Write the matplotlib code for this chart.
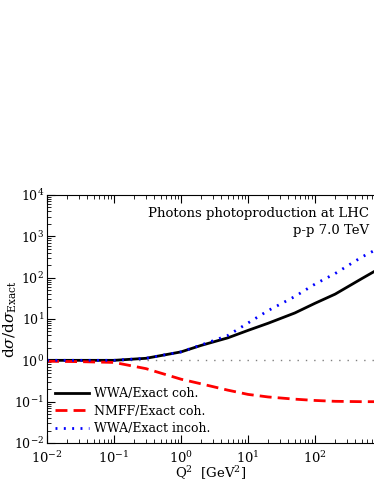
import numpy as np
import matplotlib
matplotlib.use("Agg")
import matplotlib.pyplot as plt

plt.rcParams['font.family'] = ['DejaVu Serif']
plt.rcParams['mathtext.fontset'] = 'dejavuserif'

# Q^2 grid [GeV^2]
q2 = [0.01, 0.03, 0.1, 0.3, 1, 2, 5, 10, 20, 50, 100, 200, 500, 760]

# ratios
wwa_coh = [1.0, 1.0, 1.0, 1.12, 1.6, 2.3, 3.5, 5.3, 7.9, 14, 24, 40, 95, 140]
nmff_coh = [0.95, 0.93, 0.89, 0.63, 0.35, 0.27, 0.19, 0.15, 0.13, 0.115, 0.107, 0.102, 0.1, 0.1]
wwa_incoh = [1.0, 1.0, 1.0, 1.12, 1.6, 2.35, 4.0, 8.0, 16, 35, 70, 126, 316, 450]

fig = plt.figure(figsize=(3.74, 4.84), dpi=100)
ax = fig.add_axes([0.1257, 0.0847, 0.8743, 0.5124])

ax.plot(q2, [1] * len(q2), color="gray", linestyle=(0, (1, 5)), linewidth=1)
ax.plot(q2, wwa_coh, color="black", linewidth=2, label="WWA/Exact coh.")
ax.plot(q2, nmff_coh, color="red", linewidth=2, linestyle=(0, (4.3, 2.2)), label="NMFF/Exact coh.")
ax.plot(q2, wwa_incoh, color="blue", linewidth=2, linestyle=(0, (0.7, 2.3)), label="WWA/Exact incoh.")

ax.set_xscale("log")
ax.set_yscale("log")
ax.set_xlim(1e-2, 760)
ax.set_ylim(1e-2, 1e4)

ax.spines["right"].set_visible(False)
ax.tick_params(which="both", direction="in", top=True, right=False, labelsize=9.5)
ax.tick_params(axis="y", labelsize=9, pad=2)
ax.tick_params(which="major", length=6)
ax.tick_params(which="minor", length=3)
ax.tick_params(axis="x", pad=5)

ax.set_xlabel("Q$^2$  [GeV$^2$]", fontsize=9.5)
ax.set_ylabel(r"d$\sigma$/d$\sigma_{\rm Exact}$", fontsize=11)
ax.xaxis.set_label_coords(0.5, -0.088)
ax.yaxis.set_label_coords(-0.086, 0.5)

ax.text(0.985, 0.95, "Photons photoproduction at LHC", transform=ax.transAxes,
        ha="right", va="top", fontsize=9.5)
ax.text(0.985, 0.885, "p-p 7.0 TeV", transform=ax.transAxes,
        ha="right", va="top", fontsize=9.5)

ax.legend(loc="lower left", frameon=False, fontsize=9, handlelength=2.7,
          labelspacing=0.35, borderaxespad=0.25, handletextpad=0.4)

fig.savefig("out.png", dpi=100)
